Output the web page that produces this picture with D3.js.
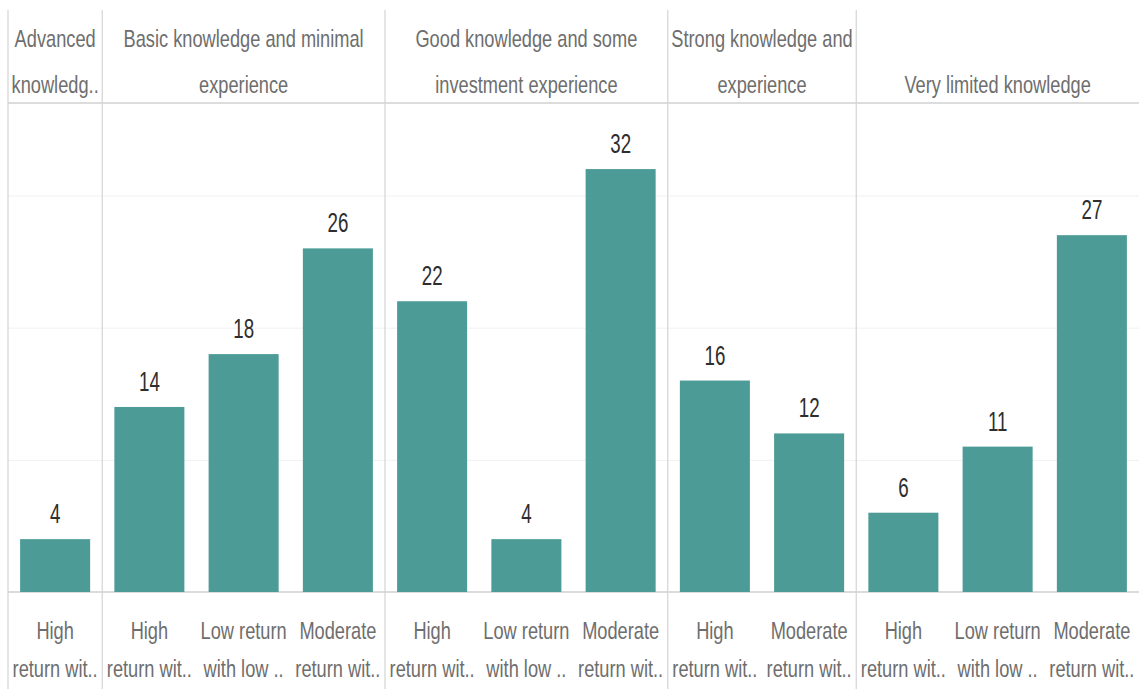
<!DOCTYPE html>
<html>
<head>
<meta charset="utf-8">
<script src="https://cdn.jsdelivr.net/npm/d3@7"></script>
<style>
  html, body { margin: 0; padding: 0; background: #fff; }
  svg { display: block; }
  .hdr, .cat { font-family: "Liberation Sans", Arial, sans-serif; fill: #6e6e6e; }
  .val { font-family: "Liberation Sans", Arial, sans-serif; fill: #2e2e2e; }
</style>
</head>
<body>
<svg id="chart" width="1139" height="689"></svg>
<script>
// ---- data ----
const groups = [
  "Advanced knowledge",
  "Basic knowledge and minimal experience",
  "Good knowledge and some investment experience",
  "Strong knowledge and experience",
  "Very limited knowledge"
];
const groupHeaderLines = [
  ["Advanced", "knowledg.."],
  ["Basic knowledge and minimal", "experience"],
  ["Good knowledge and some", "investment experience"],
  ["Strong knowledge and", "experience"],
  ["", "Very limited knowledge"]
];
const groupCategories = [
  ["High return with high risk"],
  ["High return with high risk", "Low return with low risk", "Moderate return with moderate risk"],
  ["High return with high risk", "Low return with low risk", "Moderate return with moderate risk"],
  ["High return with high risk", "Moderate return with moderate risk"],
  ["High return with high risk", "Low return with low risk", "Moderate return with moderate risk"]
];
const groupValues = [
  [4],
  [14, 18, 26],
  [22, 4, 32],
  [16, 12],
  [6, 11, 27]
];
const categoryLabelLines = {
  "High return with high risk": ["High", "return wit.."],
  "Low return with low risk": ["Low return", "with low .."],
  "Moderate return with moderate risk": ["Moderate", "return wit.."]
};
const yTicks = [10, 20, 30];

// ---- build rows ----
const rows = [];
groups.forEach((g, gi) => {
  groupCategories[gi].forEach((c, ci) => {
    rows.push({ key: gi + "|" + c, group: g, gi, cat: c, value: groupValues[gi][ci] });
  });
});

const W = 1139, H = 689;
const left = 8, right = 1139;
const headerTop = 10, headerBottom = 103, baseY = 592;
const textScale = 0.76;
const valScale = 0.67;

const svg = d3.select("#chart");

const pad = 0.257;
const x = d3.scaleBand()
  .domain(rows.map(d => d.key))
  .range([left, right])
  .paddingInner(pad)
  .paddingOuter(pad / 2);
const step = x.step();

const y = d3.scaleLinear().domain([0, 37]).range([baseY, headerBottom]);

// gridlines
const grid = d3.axisLeft(y).tickValues(yTicks).tickSize(-(right - left)).tickFormat("");
svg.append("g")
  .attr("transform", `translate(${left},0)`)
  .call(grid)
  .call(g => g.select(".domain").remove())
  .call(g => g.selectAll(".tick line").attr("stroke", "#f0f0f0").attr("stroke-width", 1));

// group boundaries
const groupStart = groups.map((g, gi) => {
  const first = rows.find(r => r.gi === gi);
  return x(first.key) - step * pad / 2;
});

// horizontal rules
svg.append("line").attr("x1", left).attr("x2", right).attr("y1", headerBottom).attr("y2", headerBottom)
  .attr("stroke", "#d0d0d0").attr("stroke-width", 1.5);
svg.append("line").attr("x1", left).attr("x2", right).attr("y1", baseY).attr("y2", baseY)
  .attr("stroke", "#cfcfcf").attr("stroke-width", 1.5);

// vertical dividers
svg.selectAll("line.div")
  .data(groupStart)
  .enter().append("line")
  .attr("class", "div")
  .attr("x1", d => d).attr("x2", d => d)
  .attr("y1", headerTop).attr("y2", H)
  .attr("stroke", "#d4d4d4").attr("stroke-width", 1.2);

// bars
svg.selectAll("rect.bar")
  .data(rows)
  .enter().append("rect")
  .attr("class", "bar")
  .attr("x", d => x(d.key))
  .attr("width", x.bandwidth())
  .attr("y", d => y(d.value))
  .attr("height", d => y(0) - y(d.value))
  .attr("fill", "#4d9b96");

// value labels
svg.selectAll("text.val")
  .data(rows)
  .enter().append("text")
  .attr("class", "val")
  .attr("transform", d => `translate(${x(d.key) + x.bandwidth() / 2},${y(d.value) - 16}) scale(${valScale},1)`)
  .attr("text-anchor", "middle")
  .attr("font-size", 28)
  .text(d => d.value);

// group headers
groups.forEach((g, gi) => {
  const x0 = groupStart[gi];
  const x1 = gi < groups.length - 1 ? groupStart[gi + 1] : right;
  const cx = (x0 + x1) / 2;
  const lines = groupHeaderLines[gi];
  [47, 93].forEach((yy, li) => {
    if (!lines[li]) return;
    svg.append("text").attr("class", "hdr")
      .attr("transform", `translate(${cx},${yy}) scale(${textScale},1)`)
      .attr("text-anchor", "middle")
      .attr("font-size", 24)
      .text(lines[li]);
  });
});

// category labels
rows.forEach(d => {
  const cx = x(d.key) + x.bandwidth() / 2;
  const lines = categoryLabelLines[d.cat];
  [639, 677].forEach((yy, li) => {
    svg.append("text").attr("class", "cat")
      .attr("transform", `translate(${cx},${yy}) scale(${textScale},1)`)
      .attr("text-anchor", "middle")
      .attr("font-size", 24)
      .text(lines[li]);
  });
});
</script>
</body>
</html>
